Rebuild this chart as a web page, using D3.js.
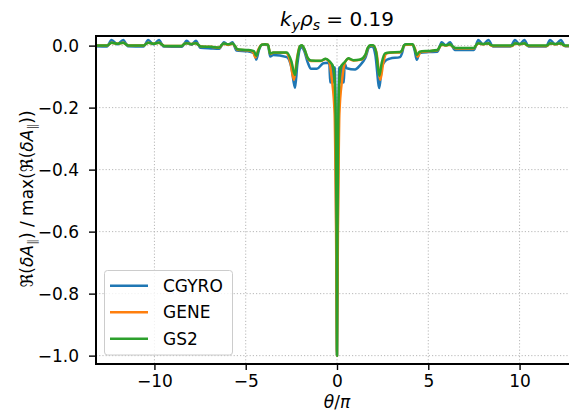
<!DOCTYPE html>
<html><head><meta charset="utf-8">
<script src="https://cdn.jsdelivr.net/npm/d3@7"></script>
<style>body{margin:0;background:#fff}svg{display:block;font-family:"DejaVu Sans",sans-serif}</style>
</head><body><svg id="c" width="569" height="418"></svg>
<script>
const seriesNames = ["CGYRO", "GENE", "GS2"];
const seriesColors = ["#1f77b4", "#ff7f0e", "#2ca02c"];
const xTicks = [-10, -5, 0, 5, 10];
const yTicks = [0.0, -0.2, -0.4, -0.6, -0.8, -1.0];

const cgyroTheta = [-13.3,-12.6,-12.35,-12.03,-11.71,-11.45,-10.6,-10.34,-10.05,-9.75,-9.5,-8.5,-8.24,-7.98,-7.73,-7.48,-6.9,-6.45,-6.19,-5.96,-5.73,-5.5,-4.9,-4.55,-4.42,-4.28,-4.12,-3.95,-3.78,-3.66,-3.5,-2.75,-2.5,-2.3,-2.17,-2.03,-1.92,-1.78,-1.6,-1.42,-1.1,-0.75,-0.5,-0.42,-0.37,-0.32,-0.27,-0.22,-0.17,-0.12,-0.07,-0.03,0,0.03,0.07,0.12,0.17,0.22,0.27,0.32,0.37,0.42,0.53,0.99,1.27,1.55,1.77,1.92,2.1,2.32,2.45,2.63,2.9,3.45,3.56,3.68,3.8,4.15,4.25,4.37,4.52,5.0,5.5,5.73,5.96,6.19,6.45,7.5,7.74,8.0,8.29,8.55,9.5,9.75,10.0,10.26,10.5,11.45,11.67,11.96,12.26,12.5,13.3];
const cgyroValue = [-0.002,-0.003,0.018,0.004,0.018,-0.002,-0.003,0.018,0.004,0.018,-0.003,-0.004,0.016,0.003,0.016,-0.007,-0.009,-0.01,0.011,0.002,0.011,-0.016,-0.018,-0.024,-0.045,-0.015,0.003,0.003,0.002,-0.035,-0.03,-0.037,-0.07,-0.137,-0.06,-0.01,-0.005,-0.02,-0.055,-0.075,-0.075,-0.057,-0.055,-0.06,-0.12,-0.06,-0.12,-0.065,-0.12,-0.07,-0.3,-0.7,-1.0,-0.7,-0.3,-0.07,-0.12,-0.065,-0.12,-0.06,-0.12,-0.058,-0.073,-0.077,-0.063,-0.04,-0.005,-0.003,-0.03,-0.137,-0.07,-0.05,-0.042,-0.037,-0.025,0.001,0.004,0.003,-0.015,-0.046,-0.024,-0.021,-0.02,0.011,0.001,0.011,-0.014,-0.014,0.018,0.004,0.018,-0.003,-0.003,0.018,0.004,0.018,-0.003,-0.003,0.018,0.004,0.018,-0.002,-0.002];

const geneTheta = [-13.3,-12.6,-12.45,-12.35,-12.03,-11.71,-11.55,-11.4,-10.6,-10.45,-10.34,-10.05,-9.75,-9.6,-9.45,-8.5,-8.38,-8.24,-7.98,-7.73,-7.58,-7.45,-6.9,-6.45,-6.32,-6.19,-5.96,-5.73,-5.6,-5.45,-4.9,-4.6,-4.47,-4.32,-4.14,-3.95,-3.78,-3.66,-3.5,-2.8,-2.55,-2.36,-2.2,-2.05,-1.92,-1.78,-1.6,-1.42,-0.9,-0.62,-0.45,-0.28,-0.13,-0.09,-0.05,0,0.05,0.09,0.13,0.28,0.45,0.62,0.9,1.27,1.55,1.68,1.82,1.97,2.16,2.38,2.52,2.68,2.9,3.45,3.56,3.68,3.8,4.15,4.28,4.42,4.57,5.0,5.5,5.62,5.73,5.96,6.19,6.32,6.5,7.5,7.62,7.74,8.0,8.29,8.42,8.55,9.6,9.75,10.0,10.26,10.4,10.55,11.5,11.67,11.96,12.26,12.4,12.55,13.3];
const geneValue = [0.0,0.0,0.006,0.009,0.006,0.009,0.004,0.0,0.0,0.006,0.009,0.006,0.009,0.004,-0.001,-0.001,0.005,0.008,0.005,0.008,0.002,-0.003,-0.004,-0.007,0.001,0.006,0.003,0.006,-0.001,-0.013,-0.015,-0.02,-0.038,-0.014,0.002,0.004,0.003,-0.027,-0.023,-0.023,-0.055,-0.11,-0.045,-0.004,0.0,-0.013,-0.042,-0.05,-0.05,-0.043,-0.05,-0.11,-0.22,-0.37,-0.6,-1.0,-0.6,-0.37,-0.22,-0.11,-0.052,-0.042,-0.048,-0.046,-0.032,-0.009,0.0,0.0,-0.022,-0.11,-0.06,-0.027,-0.023,-0.022,-0.016,0.001,0.003,0.003,-0.012,-0.036,-0.021,-0.018,-0.015,-0.005,0.003,0.0,0.003,-0.003,-0.009,-0.009,0.001,0.007,0.004,0.007,0.001,-0.001,-0.001,0.007,0.004,0.007,0.001,-0.001,-0.001,0.007,0.004,0.007,0.001,-0.001,-0.001];

const gs2Theta = [-13.3,-12.6,-12.45,-12.35,-12.03,-11.71,-11.55,-11.4,-10.6,-10.45,-10.34,-10.05,-9.75,-9.6,-9.45,-8.5,-8.38,-8.24,-7.98,-7.73,-7.58,-7.45,-6.9,-6.45,-6.32,-6.19,-5.96,-5.73,-5.6,-5.45,-4.9,-4.55,-4.42,-4.28,-4.12,-3.95,-3.78,-3.66,-3.5,-2.75,-2.5,-2.3,-2.17,-2.03,-1.92,-1.78,-1.6,-1.42,-0.9,-0.62,-0.42,-0.2,-0.12,-0.06,-0.025,0,0.025,0.06,0.12,0.2,0.44,0.62,0.9,1.27,1.55,1.68,1.82,1.97,2.14,2.32,2.45,2.63,2.9,3.45,3.56,3.68,3.8,4.15,4.25,4.37,4.52,5.0,5.5,5.62,5.73,5.96,6.19,6.32,6.5,7.5,7.62,7.74,8.0,8.29,8.42,8.55,9.6,9.75,10.0,10.26,10.4,10.55,11.5,11.67,11.96,12.26,12.4,12.55,13.3];
const gs2Value = [0.0,0.0,0.006,0.009,0.006,0.009,0.004,0.0,0.0,0.006,0.009,0.006,0.009,0.004,-0.001,-0.001,0.005,0.008,0.005,0.008,0.002,-0.003,-0.004,-0.006,0.002,0.007,0.004,0.007,0.0,-0.012,-0.014,-0.018,-0.033,-0.012,0.003,0.004,0.003,-0.026,-0.022,-0.022,-0.05,-0.095,-0.04,-0.002,0.001,-0.012,-0.04,-0.048,-0.049,-0.042,-0.05,-0.07,-0.12,-0.3,-0.6,-1.0,-0.6,-0.3,-0.12,-0.07,-0.052,-0.041,-0.047,-0.045,-0.03,-0.008,0.001,0.001,-0.02,-0.097,-0.055,-0.025,-0.022,-0.021,-0.015,0.002,0.004,0.004,-0.01,-0.03,-0.02,-0.017,-0.014,-0.004,0.004,0.001,0.004,-0.002,-0.008,-0.008,0.002,0.008,0.005,0.008,0.002,0.0,0.0,0.008,0.005,0.008,0.002,0.0,0.0,0.008,0.005,0.008,0.002,0.0,0.0];

const svg = d3.select("#c");
const L = 96, R = 578, T = 36, B = 364;
const x = d3.scaleLinear().domain([-13.2, 13.2]).range([L, R]);
const y = d3.scaleLinear().domain([-1.027, 0.031]).range([B, T]);

svg.append("rect").attr("width",569).attr("height",418).attr("fill","#fff");
svg.append("defs").append("clipPath").attr("id","clip").append("rect")
  .attr("x",L).attr("y",T).attr("width",R-L).attr("height",B-T);

// grid
const grid = svg.append("g");
grid.selectAll(".gx").data(xTicks).join("line")
  .attr("x1",d=>x(d)).attr("x2",d=>x(d)).attr("y1",T).attr("y2",B)
  .attr("stroke","#b0b0b0").attr("stroke-width",0.9).attr("stroke-dasharray","1.2,2");
grid.selectAll(".gy").data(yTicks).join("line")
  .attr("x1",L).attr("x2",R).attr("y1",d=>y(d)).attr("y2",d=>y(d))
  .attr("stroke","#b0b0b0").attr("stroke-width",0.9).attr("stroke-dasharray","1.2,2");

const data = [
  d3.zip(cgyroTheta, cgyroValue),
  d3.zip(geneTheta, geneValue),
  d3.zip(gs2Theta, gs2Value)
];
const line = d3.line().x(d=>x(d[0])).y(d=>y(d[1])).curve(d3.curveMonotoneX);
const lg = svg.append("g").attr("clip-path","url(#clip)");
data.forEach((s,i)=>{
  lg.append("path").datum(s).attr("d",line).attr("fill","none")
    .attr("stroke",seriesColors[i]).attr("stroke-width",2.5).attr("stroke-linejoin","round");
});

// axes
const fmtY = d => d3.format(".1f")(d).replace("-","\u2212");
const fmtX = d => String(d).replace("-","\u2212");
const ax = svg.append("g").attr("transform",`translate(0,${B})`)
  .call(d3.axisBottom(x).tickValues(xTicks).tickFormat(fmtX).tickSize(6).tickPadding(5));
const ay = svg.append("g").attr("transform",`translate(${L},0)`)
  .call(d3.axisLeft(y).tickValues(yTicks).tickFormat(fmtY).tickSize(7).tickPadding(10));
[ax, ay].forEach(g=>{
  g.select(".domain").remove();
  g.selectAll(".tick line").attr("stroke","#000").attr("stroke-width",1.4);
  g.selectAll(".tick text").attr("fill","#000").style("font-size","17px").style("font-family","DejaVu Sans");
});
// spines
svg.append("rect").attr("x",L).attr("y",T).attr("width",R-L).attr("height",B-T)
  .attr("fill","none").attr("stroke","#000").attr("stroke-width",2);

// title
const title = svg.append("text").attr("x",337).attr("y",26).attr("text-anchor","middle")
  .style("font-size","20px").attr("fill","#000");
title.append("tspan").attr("font-style","italic").text("k");
title.append("tspan").attr("font-style","italic").attr("dy",4).style("font-size","14px").text("y");
title.append("tspan").attr("font-style","italic").attr("dy",-4).text("ρ");
title.append("tspan").attr("font-style","italic").attr("dy",4).style("font-size","14px").text("s");
title.append("tspan").attr("dy",-4).text(" = 0.19");

// x label
const xl = svg.append("text").attr("x",337).attr("y",408).attr("text-anchor","middle")
  .style("font-size","17px").attr("fill","#000");
xl.append("tspan").attr("font-style","italic").text("θ");
xl.append("tspan").text("/");
xl.append("tspan").attr("font-style","italic").text("π");

// y label
const yl = svg.append("text").attr("transform","translate(33,199) rotate(-90)")
  .attr("text-anchor","middle").style("font-size","17px").attr("fill","#000");
yl.append("tspan").text("ℜ(");
yl.append("tspan").attr("font-style","italic").text("δA");
yl.append("tspan").attr("dy",3).style("font-size","12px").attr("fill","#555").text("∥");
yl.append("tspan").attr("dy",-3).text(") / max(ℜ(");
yl.append("tspan").attr("font-style","italic").text("δA");
yl.append("tspan").attr("dy",3).style("font-size","12px").attr("fill","#555").text("∥");
yl.append("tspan").attr("dy",-3).text("))");

// legend
const leg = svg.append("g");
leg.append("rect").attr("x",104.5).attr("y",270.5).attr("width",128).attr("height",84.5).attr("rx",3)
  .attr("fill","#fff").attr("fill-opacity",0.8).attr("stroke","#cccccc").attr("stroke-width",1);
seriesNames.forEach((n,i)=>{
  const yy = 285.7 + i*26.5;
  leg.append("line").attr("x1",110).attr("x2",148).attr("y1",yy).attr("y2",yy)
    .attr("stroke",seriesColors[i]).attr("stroke-width",2.5);
  leg.append("text").attr("x",163).attr("y",yy+6).style("font-size","17px").attr("fill","#000").text(n);
});
</script></body></html>
